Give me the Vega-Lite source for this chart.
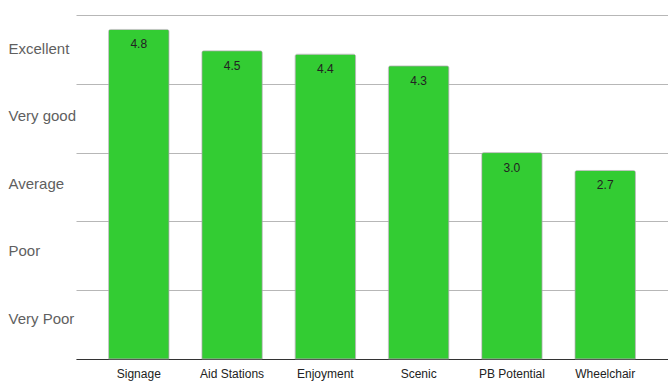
{
  "$schema": "https://vega.github.io/schema/vega-lite/v6.json",
  "autosize": "none",
  "width": 592,
  "height": 344,
  "padding": {"left": 76, "top": 15, "right": 0, "bottom": 25},
  "background": "white",
  "config": {"view": {"stroke": null}, "font": "Liberation Sans"},
  "data": {"values": [
    {"category": "Signage", "score": 4.79},
    {"category": "Aid Stations", "score": 4.48},
    {"category": "Enjoyment", "score": 4.43},
    {"category": "Scenic", "score": 4.26},
    {"category": "PB Potential", "score": 3.0},
    {"category": "Wheelchair", "score": 2.74}
  ]},
  "encoding": {
    "x": {
      "field": "category", "type": "nominal", "sort": null,
      "scale": {"paddingInner": 0.352, "paddingOuter": 0.349},
      "axis": {"title": null, "labelAngle": 0, "ticks": false, "domainColor": "#333333", "domainWidth": 1,
               "labelFont": "Liberation Sans", "labelFontSize": 12, "labelColor": "#222222", "labelPadding": 9}
    },
    "y": {
      "field": "score", "type": "quantitative",
      "scale": {"domain": [0, 5], "nice": false, "zero": true},
      "axis": {"title": null, "values": [0, 1, 2, 3, 4, 5], "domain": false, "ticks": false, "tickSize": 0,
               "grid": true, "gridColor": "#b7b7b7", "gridWidth": 1,
               "labelExpr": "datum.value == 5 ? 'Excellent' : datum.value == 4 ? 'Very good' : datum.value == 3 ? 'Average' : datum.value == 2 ? 'Poor' : datum.value == 1 ? 'Very Poor' : ''",
               "labelOffset": {"condition": [
                 {"test": "datum.value == 5", "value": 33},
                 {"test": "datum.value == 4", "value": 32},
                 {"test": "datum.value == 3", "value": 31},
                 {"test": "datum.value == 2", "value": 29}
               ], "value": 28},
               "labelAlign": "left", "labelPadding": 68, "labelBaseline": "middle",
               "labelFont": "Liberation Sans", "labelFontSize": 15, "labelColor": "#5f5f5f"}
    }
  },
  "layer": [
    {"mark": {"type": "bar", "color": "#33cc33", "cornerRadiusTopLeft": 2, "cornerRadiusTopRight": 2, "stroke": "#aaaaaa", "strokeWidth": 0.6}},
    {"mark": {"type": "text", "baseline": "alphabetic", "dy": 19, "font": "Liberation Sans", "fontSize": 12, "color": "#222222"},
     "encoding": {"text": {"field": "score", "type": "quantitative", "format": ".1f"}}}
  ]
}
